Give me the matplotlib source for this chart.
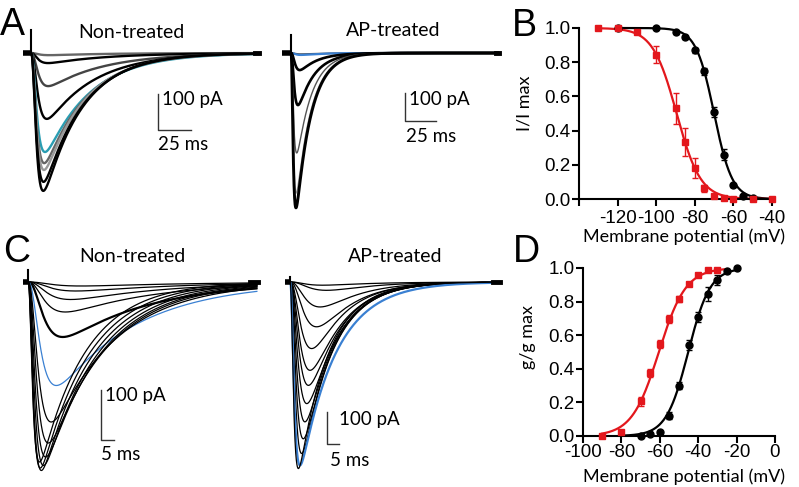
import numpy as np
import matplotlib
matplotlib.use("Agg")
import matplotlib.pyplot as plt

plt.rcParams['axes.unicode_minus'] = False
plt.rcParams['font.family'] = ['Liberation Sans', 'DejaVu Sans']

W, H = 799, 487
LABEL_FONT = 'Lato'
RED = '#e3171c'
CYAN = '#2a9db2'
BLUE = '#3a80d2'

# ---------------- data ----------------
# A: current traces, non-treated (amplitude pA, time to peak ms, decay tau ms)
a_nt_amp = [6, 28, 92, 183, 275, 306, 325, 358, 383]
a_nt_tpk = [14, 13, 13, 12, 10.6, 10, 9.8, 9.5, 9.3]
a_nt_tau = [45, 45, 42, 36, 34, 32, 31, 30, 29]
a_nt_col = ['#666666', 'black', '#444444', 'black', CYAN, '#666666', '#999999', 'black', 'black']

# A: AP-treated
a_ap_amp = [4, 7, 61, 186, 357, 500, 553]
a_ap_tpk = [8, 8, 7, 5.6, 4.6, 4.2, 4.0]
a_ap_tau = [15, 15, 14, 13, 12, 12, 12]
a_ap_col = ['#555555', BLUE, 'black', 'black', '#555555', '#999999', 'black']

# C: IV families, non-treated (-80..-20 mV)
c_nt_amp = [8, 18, 35, 60, 110, 207, 280, 322, 350, 367, 377, 372, 360]
c_nt_tpk = [20, 18, 16, 14, 13, 10.6, 8.7, 7.6, 6.6, 5.8, 5.0, 4.6, 4.3]
c_nt_tau = [40, 38, 35, 33, 32, 30, 24, 22, 21, 20, 19, 18, 17]
c_nt_blue = 5

# C: AP-treated
c_ap_amp = [10, 26, 78, 140, 208, 276, 323, 380, 437, 490, 536, 573, 583]
c_ap_tpk = [14, 15.7, 12.9, 11.4, 9.3, 8.6, 7.9, 7.2, 6.4, 5.7, 5.0, 4.3, 3.6]
c_ap_tau = [20, 18, 16, 15, 14, 14, 13.5, 13.5, 13, 13, 13, 15, 12.5]
c_ap_blue = 11

# B: steady-state inactivation
b_v_nt = [-120, -100, -90, -85, -80, -75, -70, -65, -60, -55, -50]
b_i_nt = [1.0, 1.0, 0.975, 0.945, 0.87, 0.748, 0.51, 0.26, 0.08, 0.02, 0.005]
b_e_nt = [0, 0, 0.01, 0.01, 0.015, 0.02, 0.03, 0.03, 0.01, 0, 0]
b_v_ap = [-130, -120, -110, -100, -90, -85, -80, -75, -70, -65, -60, -50, -40]
b_i_ap = [1.0, 1.0, 0.977, 0.845, 0.53, 0.333, 0.18, 0.062, 0.02, 0.005, 0.0, 0.0, 0.0]
b_e_ap = [0, 0, 0.01, 0.05, 0.09, 0.08, 0.06, 0.02, 0.01, 0, 0, 0, 0]
b_fit_nt = (-70.0, 4.7)
b_fit_ap = (-89.4, 6.2)

# D: activation (conductance)
d_v_nt = [-70, -65, -60, -55, -50, -45, -40, -35, -30, -25, -20]
d_g_nt = [0.0, 0.01, 0.025, 0.12, 0.30, 0.54, 0.71, 0.845, 0.93, 0.98, 1.0]
d_e_nt = [0, 0, 0, 0.02, 0.02, 0.03, 0.03, 0.04, 0.03, 0.01, 0]
d_v_ap = [-90, -80, -70, -65, -60, -55, -50, -45, -40, -35, -30]
d_g_ap = [0.0, 0.025, 0.206, 0.376, 0.548, 0.697, 0.816, 0.903, 0.956, 0.99, 0.99]
d_e_ap = [0, 0.01, 0.025, 0.025, 0.025, 0.025, 0.02, 0.01, 0.01, 0.005, 0.005]
d_fit_nt = (-45.2, 5.7)
d_fit_ap = (-60.5, 7.0)


def hh_trace(t, amp, tpk, tau_h):
    # m^3 h waveform scaled to the given peak and time to peak
    lo, hi = 0.01, tpk
    for _ in range(60):
        mid = (lo + hi) / 2
        if mid * np.log(1 + 3 * tau_h / mid) > tpk:
            hi = mid
        else:
            lo = mid
    tau_m = (lo + hi) / 2
    tt = np.clip(t, 0, None)
    w = (1 - np.exp(-tt / tau_m)) ** 3 * np.exp(-tt / tau_h)
    return -amp * w / w.max()


fig = plt.figure(figsize=(W / 100, H / 100), dpi=100)


def px_axes(L, R, T, B):
    return fig.add_axes([L / W, 1 - B / H, (R - L) / W, (B - T) / H])


def ftext(x, y, s, **kw):
    kw.setdefault('fontfamily', LABEL_FONT)
    fig.text(x / W, 1 - y / H, s, **kw)


def trace_panel(box, onset, base, pxms, pxpa, amps, tpks, taus, cols, lws,
                pre, tend, spike, bar, title_xy, title):
    L, R, T, B = box
    ax = px_axes(L, R, T, B)
    ax.set_xlim((L - onset) / pxms, (R - onset) / pxms)
    ax.set_ylim(-(B - base) / pxpa, (base - T) / pxpa)
    ax.axis('off')
    t = np.arange(0, tend, 0.05)
    for a, tp, th, c, lw in zip(amps, tpks, taus, cols, lws):
        ax.plot(t, hh_trace(t, a, tp, th), color=c, lw=lw, solid_capstyle='butt')
    ax.plot([-pre, 0], [0, 0], color='black', lw=4, solid_capstyle='butt')
    ax.plot([0, 0], [0, spike], color='black', lw=1.5)
    ax.plot([tend - 3, tend], [0, 0], color='black', lw=3.5)
    bx, by, bt, bp = bar
    ax.plot([bx, bx, bx + bt], [by, by - bp, by - bp], color='#333333', lw=1)
    ftext(title_xy[0], title_xy[1], title, fontsize=14, ha='center', va='center')
    return ax


# ---- A ----
trace_panel((15, 270, 20, 200), 31, 53, 1.32, 0.36, a_nt_amp, a_nt_tpk, a_nt_tau,
            a_nt_col, [1.7] * 9, 6, 173, 64, (96, -114, 25, 100), (131, 32), 'Non-treated')
ftext(162, 100, '100 pA', fontsize=13.5, va='center')
ftext(158, 145, '25 ms', fontsize=13.5, va='center')

trace_panel((275, 510, 20, 215), 291, 53, 1.24, 0.28, a_ap_amp, a_ap_tpk, a_ap_tau,
            a_ap_col, [1.3, 1.6, 1.9, 1.9, 1.0, 1.0, 2.1], 7, 168, 64,
            (92, -143, 25, 100), (393, 31), 'AP-treated')
ftext(409, 100, '100 pA', fontsize=13.5, va='center')
ftext(406, 137, '25 ms', fontsize=13.5, va='center')

# ---- C ----
cols = ['black'] * len(c_nt_amp)
cols[c_nt_blue] = BLUE
lws = [0.9] * len(c_nt_amp)
lws[4] = 1.6
trace_panel((15, 265, 250, 480), 28, 282, 2.67, 0.5, c_nt_amp, c_nt_tpk, c_nt_tau,
            cols, lws, 2, 86, 24, (27.3, -216, 5, 100), (132, 257), 'Non-treated')
ftext(105, 395, '100 pA', fontsize=13.5, va='center')
ftext(101, 455, '5 ms', fontsize=13.5, va='center')

cols = ['black'] * len(c_ap_amp)
cols[c_ap_blue] = BLUE
lws = [0.9] * len(c_ap_amp)
lws[c_ap_blue] = 1.6
trace_panel((275, 505, 250, 480), 290, 282, 2.33, 0.32, c_ap_amp, c_ap_tpk, c_ap_tau,
            cols, lws, 2, 90, 15, (15.9, -406, 5, 100), (395, 257), 'AP-treated')
ftext(339, 420, '100 pA', fontsize=13.5, va='center')
ftext(330, 460, '5 ms', fontsize=13.5, va='center')


# ---- B and D ----
def style_axes(ax, xticks, xlabels, xpad):
    for s in ['top', 'right']:
        ax.spines[s].set_visible(False)
    for s in ['left', 'bottom']:
        ax.spines[s].set_linewidth(1.5)
    ax.set_ylim(0, 1.0)
    ax.set_yticks(np.arange(0, 1.01, 0.2))
    ax.set_yticklabels(['%.1f' % v for v in np.arange(0, 1.01, 0.2)])
    ax.set_xticks(xticks)
    ax.set_xticklabels(xlabels)
    ax.tick_params(axis='both', direction='out', length=5, width=1.5, labelsize=13.5)
    ax.tick_params(axis='y', pad=1)
    ax.tick_params(axis='x', pad=xpad)


def boltz(v, vh, k):
    return 1 / (1 + np.exp((v - vh) / k))


axB = px_axes(579, 772, 28, 199)
axB.set_xlim(-140, -40)
vv = np.linspace(-120, -40, 300)
axB.plot(vv, boltz(vv, *b_fit_nt), color='black', lw=1.6, clip_on=False)
vv = np.linspace(-130, -40, 300)
axB.plot(vv, boltz(vv, *b_fit_ap), color=RED, lw=1.6, clip_on=False)
axB.errorbar(b_v_nt, b_i_nt, yerr=b_e_nt, fmt='o', color='black', ms=5, capsize=2.5,
             elinewidth=1, clip_on=False, zorder=3)
axB.errorbar(b_v_ap, b_i_ap, yerr=b_e_ap, fmt='s', color=RED, ms=4.5, capsize=2.5,
             elinewidth=1, clip_on=False, zorder=4)
style_axes(axB, [-140, -120, -100, -80, -60, -40], ['', '-120', '-100', '-80', '-60', '-40'], 3)
ftext(684, 237, 'Membrane potential (mV)', fontsize=13, ha='center', va='center')
ftext(524, 103, 'I/I max', fontsize=13, ha='center', va='center', rotation=90)

axD = px_axes(583, 775, 268, 436)
axD.set_xlim(-100, 0)
vv = np.linspace(-80, -20, 300)
axD.plot(vv, 1 - boltz(vv, *d_fit_nt), color='black', lw=1.6, clip_on=False)
vv = np.linspace(-90, -25, 300)
axD.plot(vv, 1 - boltz(vv, *d_fit_ap), color=RED, lw=1.6, clip_on=False)
axD.errorbar(d_v_nt, d_g_nt, yerr=d_e_nt, fmt='o', color='black', ms=5, capsize=2.5,
             elinewidth=1, clip_on=False, zorder=3)
axD.errorbar(d_v_ap, d_g_ap, yerr=d_e_ap, fmt='s', color=RED, ms=4.5, capsize=2.5,
             elinewidth=1, clip_on=False, zorder=4)
style_axes(axD, [-100, -80, -60, -40, -20, 0], ['-100', '-80', '-60', '-40', '-20', '0'], 1)
ftext(684, 477, 'Membrane potential (mV)', fontsize=13, ha='center', va='center')
ftext(528, 337, 'g/g max', fontsize=13, ha='center', va='center', rotation=90)

# panel letters
for x, y, s in [(0, 35, 'A'), (512, 36, 'B'), (3, 262, 'C'), (513, 262, 'D')]:
    fig.text(x / W, 1 - y / H, s, fontsize=27, fontfamily='Liberation Sans', ha='left', va='baseline')

fig.savefig('out.png', dpi=100)
